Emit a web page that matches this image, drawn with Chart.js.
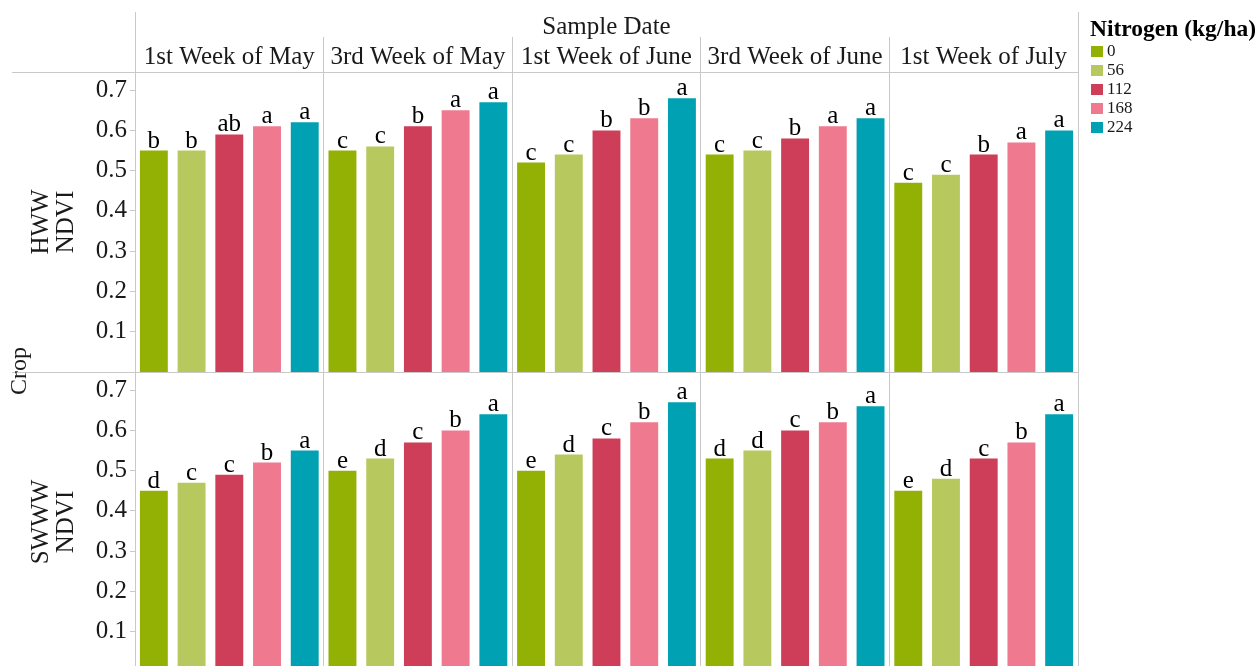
<!DOCTYPE html>
<html>
<head>
<meta charset="utf-8">
<script src="https://cdn.jsdelivr.net/npm/chart.js@4.4.0/dist/chart.umd.min.js"></script>
<style>
    html, body { margin: 0; padding: 0; background: #fff; }
    #wrap { width: 1260px; height: 666px; overflow: hidden; }
</style>
</head>
<body>
<div id="wrap"><canvas id="ndviChart" width="1260" height="672"></canvas></div>
<script>
const sampleDates = ['1st Week of May', '3rd Week of May', '1st Week of June', '3rd Week of June', '1st Week of July'];
const nitrogenRates = ['0', '56', '112', '168', '224'];
const rateColors = ['#92b104', '#b7c95e', '#ce3e58', '#ef7a8f', '#00a1b2'];
const yTicks = [0.1, 0.2, 0.3, 0.4, 0.5, 0.6, 0.7];

// one row per sample date, one value per nitrogen rate
const hwwNdvi = [
    [0.55, 0.55, 0.59, 0.61, 0.62],
    [0.55, 0.56, 0.61, 0.65, 0.67],
    [0.52, 0.54, 0.60, 0.63, 0.68],
    [0.54, 0.55, 0.58, 0.61, 0.63],
    [0.47, 0.49, 0.54, 0.57, 0.60]
];
const swwwNdvi = [
    [0.45, 0.47, 0.49, 0.52, 0.55],
    [0.50, 0.53, 0.57, 0.60, 0.64],
    [0.50, 0.54, 0.58, 0.62, 0.67],
    [0.53, 0.55, 0.60, 0.62, 0.66],
    [0.45, 0.48, 0.53, 0.57, 0.64]
];
const hwwLetters = [
    ['b', 'b', 'ab', 'a', 'a'],
    ['c', 'c', 'b', 'a', 'a'],
    ['c', 'c', 'b', 'b', 'a'],
    ['c', 'c', 'b', 'a', 'a'],
    ['c', 'c', 'b', 'a', 'a']
];
const swwwLetters = [
    ['d', 'c', 'c', 'b', 'a'],
    ['e', 'd', 'c', 'b', 'a'],
    ['e', 'd', 'c', 'b', 'a'],
    ['d', 'd', 'c', 'b', 'a'],
    ['e', 'd', 'c', 'b', 'a']
];

const serif = "'Times New Roman', 'Liberation Serif', serif";
const gridColor = '#c9c9c9';
const textColor = '#1a1a1a';

Chart.defaults.font.family = serif;
Chart.defaults.color = textColor;

function buildDatasets(values, letters, axisId) {
    return nitrogenRates.map((rate, n) => ({
        label: rate,
        data: values.map(row => row[n]),
        letters: letters.map(row => row[n]),
        backgroundColor: rateColors[n],
        yAxisID: axisId,
        stack: 'n' + n,
        categoryPercentage: 1.0,
        barPercentage: 0.74
    }));
}

function yAxis(title) {
    return {
        type: 'linear',
        position: 'left',
        stack: 'crop',
        stackWeight: 1,
        stacked: false,
        min: 0,
        max: 0.745,
        afterBuildTicks: axis => { axis.ticks = yTicks.map(v => ({ value: v })); },
        afterFit: axis => {
            axis.width = 135;
            axis.paddingTop = 0;
            axis.paddingBottom = 0;
        },
        ticks: {
            font: { size: 25 },
            color: textColor,
            padding: 3,
            autoSkip: false,
            callback: v => v.toFixed(1)
        },
        grid: { display: true, drawOnChartArea: false, drawTicks: true, tickLength: 5, color: gridColor },
        border: { display: true, color: gridColor },
        title: {
            display: true,
            text: [title, 'NDVI'],
            font: { size: 25, lineHeight: 1.0 },
            color: textColor,
            padding: { top: 29, bottom: 0 }
        }
    };
}

const letterLabels = {
    id: 'letterLabels',
    afterDatasetsDraw(chart) {
        const ctx = chart.ctx;
        ctx.save();
        ctx.font = '25px ' + serif;
        ctx.fillStyle = '#000';
        ctx.textAlign = 'center';
        ctx.textBaseline = 'alphabetic';
        chart.data.datasets.forEach((ds, i) => {
            chart.getDatasetMeta(i).data.forEach((bar, j) => {
                ctx.fillText(ds.letters[j], bar.x, bar.y - 3);
            });
        });
        ctx.restore();
    }
};

const frameAndLegend = {
    id: 'frameAndLegend',
    afterDraw(chart) {
        const ctx = chart.ctx;
        const area = chart.chartArea;
        const rowLine = Math.round(chart.scales.yH.bottom) + 0.5;
        ctx.save();
        ctx.strokeStyle = gridColor;
        ctx.lineWidth = 1;
        ctx.beginPath();
        ctx.moveTo(12, Math.round(area.top) + 0.5);
        ctx.lineTo(Math.round(area.right) + 0.5, Math.round(area.top) + 0.5);
        ctx.moveTo(12, rowLine);
        ctx.lineTo(Math.round(area.right) + 0.5, rowLine);
        ctx.moveTo(Math.round(area.left) + 0.5, 12);
        ctx.lineTo(Math.round(area.left) + 0.5, area.bottom);
        ctx.moveTo(Math.round(area.right) + 0.5, 12);
        ctx.lineTo(Math.round(area.right) + 0.5, area.bottom);
        ctx.stroke();

        // outer row title
        ctx.fillStyle = textColor;
        ctx.font = '24px ' + serif;
        ctx.textAlign = 'center';
        ctx.textBaseline = 'middle';
        ctx.translate(20, (area.top + 670) / 2);
        ctx.rotate(-Math.PI / 2);
        ctx.fillText('Crop', 0, 0);
        ctx.setTransform(1, 0, 0, 1, 0, 0);

        // legend
        const lx = area.right + 12;
        ctx.textAlign = 'left';
        ctx.font = 'bold 23.5px ' + serif;
        ctx.fillStyle = '#000';
        ctx.fillText('Nitrogen (kg/ha)', lx, 30);
        ctx.font = '17px ' + serif;
        nitrogenRates.forEach((rate, n) => {
            const cy = 51 + n * 19;
            ctx.fillStyle = rateColors[n];
            ctx.fillRect(lx + 1, cy - 5, 12, 11);
            ctx.fillStyle = textColor;
            ctx.fillText(rate, lx + 17, cy + 1);
        });
        ctx.restore();
    }
};

new Chart(document.getElementById('ndviChart').getContext('2d'), {
    type: 'bar',
    data: {
        labels: sampleDates,
        datasets: buildDatasets(hwwNdvi, hwwLetters, 'yH').concat(buildDatasets(swwwNdvi, swwwLetters, 'yS'))
    },
    options: {
        responsive: false,
        animation: false,
        devicePixelRatio: 1,
        layout: { padding: { left: 0, top: 0, right: 182, bottom: 0 } },
        plugins: {
            legend: { display: false },
            tooltip: { enabled: false }
        },
        scales: {
            x: {
                position: 'top',
                afterFit: axis => {
                    axis.height = 72;
                    axis.paddingLeft = 0;
                    axis.paddingRight = 0;
                },
                ticks: {
                    font: { size: 25, lineHeight: 1.05 },
                    color: textColor,
                    padding: -34,
                    maxRotation: 0,
                    autoSkip: false
                },
                grid: { display: true, offset: true, drawOnChartArea: true, drawTicks: true, tickLength: 35, color: gridColor },
                border: { display: true, color: gridColor },
                title: {
                    display: true,
                    text: 'Sample Date',
                    font: { size: 25, lineHeight: 1.05 },
                    color: textColor,
                    padding: { top: 14, bottom: 0 }
                }
            },
            yS: yAxis('SWWW'),
            yH: yAxis('HWW')
        }
    },
    plugins: [letterLabels, frameAndLegend]
});
</script>
</body>
</html>
